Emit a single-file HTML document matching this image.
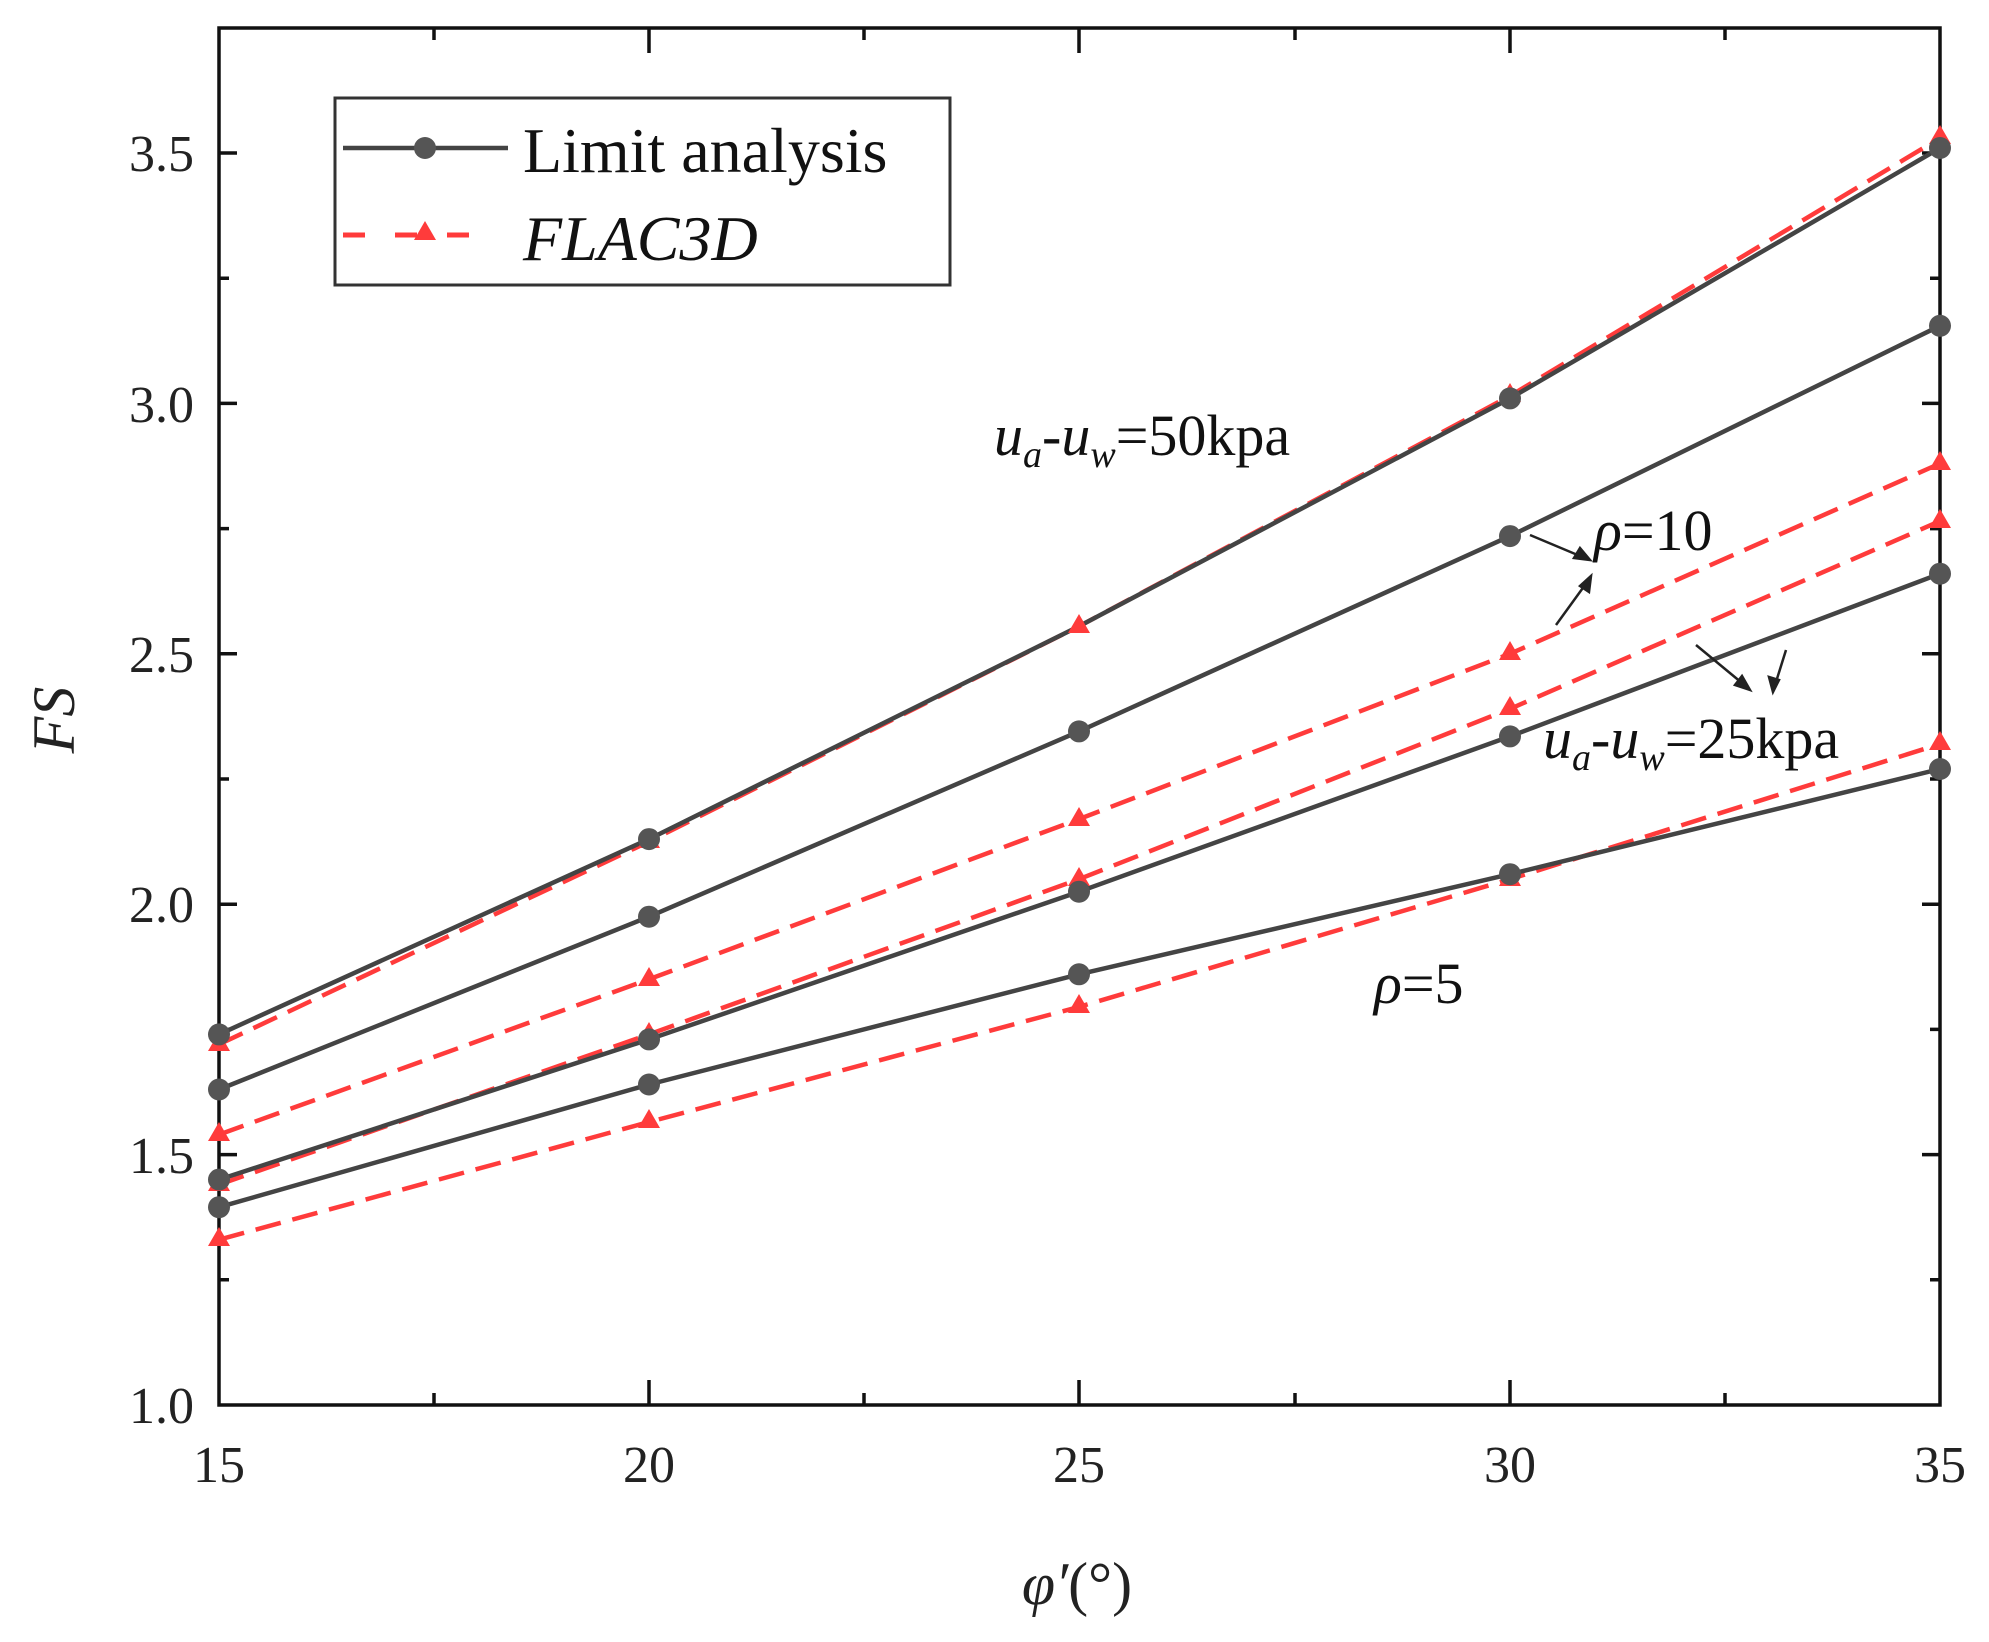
<!DOCTYPE html>
<html><head><meta charset="utf-8"><style>body{margin:0;background:#fff}svg{display:block}</style></head>
<body>
<svg width="1989" height="1642" xmlns="http://www.w3.org/2000/svg" font-family="Liberation Serif, serif">
<rect width="1989" height="1642" fill="#fff"/>
<g stroke="#111" stroke-width="3.5" fill="none">
<rect x="219" y="28" width="1721" height="1377"/>
<path d="M219 1154.6h18M219 904.2h18M219 653.8h18M219 403.4h18M219 153h18M219 1279.8h10M219 1029.4h10M219 779h10M219 528.6h10M219 278.2h10
M1940 1154.6h-18M1940 904.2h-18M1940 653.8h-18M1940 403.4h-18M1940 153h-18M1940 1279.8h-10M1940 1029.4h-10M1940 779h-10M1940 528.6h-10M1940 278.2h-10
M649 1405v-25M1079 1405v-25M1510 1405v-25M434 1405v-12M864 1405v-12M1295 1405v-12M1725 1405v-12
M649 28v25M1079 28v25M1510 28v25M434 28v12M864 28v12M1295 28v12M1725 28v12"/>
</g>
<g font-size="52" fill="#222" text-anchor="end">
<text x="194" y="1423">1.0</text><text x="194" y="1173">1.5</text><text x="194" y="922">2.0</text><text x="194" y="672">2.5</text><text x="194" y="422">3.0</text><text x="194" y="171">3.5</text>
</g>
<g font-size="52" fill="#222" text-anchor="middle">
<text x="219" y="1482">15</text><text x="649" y="1482">20</text><text x="1079" y="1482">25</text><text x="1510" y="1482">30</text><text x="1940" y="1482">35</text>
</g>
<text x="1077" y="1604" font-size="60" text-anchor="middle" fill="#222"><tspan font-style="italic">φ′</tspan>(°)</text>
<text transform="translate(74,720) rotate(-90)" font-size="60" font-style="italic" text-anchor="middle" fill="#222">FS</text>
<g fill="none" stroke="#ff3b3b" stroke-width="4.5" stroke-dasharray="26 12">
<polyline points="219,1044.4 649,841.6 1079,626.3 1510,395.9 1940,138"/>
<polyline points="219,1134.6 649,979.3 1079,819.1 1510,653.8 1940,463.5"/>
<polyline points="219,1184.6 649,1034.4 1079,879.2 1510,708.9 1940,521.1"/>
<polyline points="219,1239.7 649,1122 1079,1006.9 1510,879.2 1940,744"/>
</g>
<g fill="none" stroke="#444" stroke-width="4.5">
<polyline points="219,1034.4 649,839.1 1079,626.3 1510,398.4 1940,148"/>
<polyline points="219,1089.5 649,916.7 1079,731.4 1510,536.1 1940,325.8"/>
<polyline points="219,1179.6 649,1039.4 1079,891.7 1510,736.4 1940,573.7"/>
<polyline points="219,1207.2 649,1084.5 1079,974.3 1510,874.2 1940,769"/>
</g>
<g fill="#ff3b3b">
<path d="M219 1032l-11 19h22z M649 829l-11 19h22z M1079 614l-11 19h22z M1510 383l-11 19h22z M1940 125l-11 19h22z
M219 1122l-11 19h22z M649 967l-11 19h22z M1079 807l-11 19h22z M1510 641l-11 19h22z M1940 451l-11 19h22z
M219 1172l-11 19h22z M649 1022l-11 19h22z M1079 867l-11 19h22z M1510 696l-11 19h22z M1940 509l-11 19h22z
M219 1227l-11 19h22z M649 1109l-11 19h22z M1079 994l-11 19h22z M1510 867l-11 19h22z M1940 731l-11 19h22z"/>
</g>
<g fill="#555">
<circle cx="219" cy="1034.4" r="11"/><circle cx="649" cy="839.1" r="11"/><circle cx="1510" cy="398.4" r="11"/><circle cx="1940" cy="148" r="11"/>
<circle cx="219" cy="1089.5" r="11"/><circle cx="649" cy="916.7" r="11"/><circle cx="1079" cy="731.4" r="11"/><circle cx="1510" cy="536.1" r="11"/><circle cx="1940" cy="325.8" r="11"/>
<circle cx="219" cy="1179.6" r="11"/><circle cx="649" cy="1039.4" r="11"/><circle cx="1079" cy="891.7" r="11"/><circle cx="1510" cy="736.4" r="11"/><circle cx="1940" cy="573.7" r="11"/>
<circle cx="219" cy="1207.2" r="11"/><circle cx="649" cy="1084.5" r="11"/><circle cx="1079" cy="974.3" r="11"/><circle cx="1510" cy="874.2" r="11"/><circle cx="1940" cy="769" r="11"/>
</g>
<rect x="335" y="98" width="615" height="187" fill="#fff" stroke="#333" stroke-width="3"/>
<line x1="343" y1="148" x2="508" y2="148" stroke="#444" stroke-width="4.5"/>
<circle cx="425" cy="148" r="11" fill="#555"/>
<line x1="343" y1="235" x2="495" y2="235" stroke="#ff3b3b" stroke-width="5" stroke-dasharray="22 30"/>
<path d="M425 221l-11 19h22z" fill="#ff3b3b"/>
<text x="523" y="172" font-size="64" fill="#111">Limit analysis</text>
<text x="523" y="260" font-size="64" font-style="italic" fill="#111">FLAC3D</text>
<g font-size="58" fill="#111">
<text x="994" y="455"><tspan font-style="italic">u</tspan><tspan font-style="italic" font-size="38" dy="12">a</tspan><tspan dy="-12">-</tspan><tspan font-style="italic">u</tspan><tspan font-style="italic" font-size="38" dy="12">w</tspan><tspan dy="-12">=50kpa</tspan></text>
<text x="1594" y="550"><tspan font-style="italic">ρ</tspan>=10</text>
<text x="1543" y="758"><tspan font-style="italic">u</tspan><tspan font-style="italic" font-size="38" dy="12">a</tspan><tspan dy="-12">-</tspan><tspan font-style="italic">u</tspan><tspan font-style="italic" font-size="38" dy="12">w</tspan><tspan dy="-12">=25kpa</tspan></text>
<text x="1374" y="1003"><tspan font-style="italic">ρ</tspan>=5</text>
</g>
<g stroke="#222" stroke-width="2.5" fill="#222">
<line x1="1530" y1="535" x2="1580" y2="556"/><path d="M1590 560l-16 -2 6 -10z"/>
<line x1="1556" y1="625" x2="1585" y2="585"/><path d="M1591 576l-2 16 -9 -6z"/>
<line x1="1696" y1="645" x2="1742" y2="683"/><path d="M1750 690l-15 -5 7 -9z"/>
<line x1="1786" y1="650" x2="1776" y2="682"/><path d="M1773 692l-4 -15 10 3z"/>
</g>
</svg>
</body></html>
